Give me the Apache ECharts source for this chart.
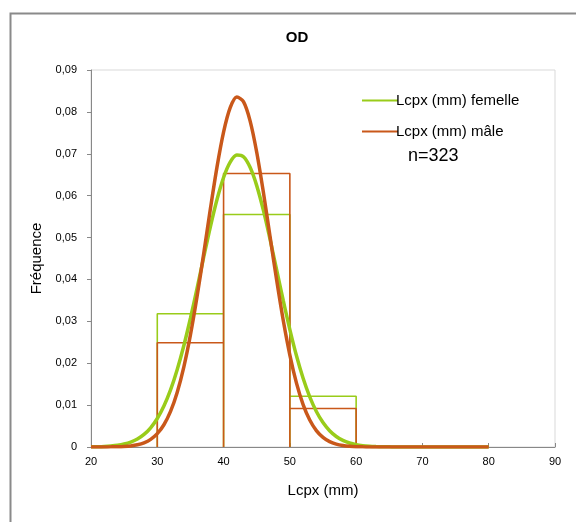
<!DOCTYPE html>
<html>
<head>
<meta charset="utf-8">
<script src="https://cdn.jsdelivr.net/npm/echarts@6/dist/echarts.min.js"></script>
<style>
  html, body { margin: 0; padding: 0; background: #ffffff; }
  #chart { width: 576px; height: 522px; }
</style>
</head>
<body>
<div id="chart"></div>
<script>
// ---- data ----
const chartTitle = 'OD';
const nameFemale = 'Lcpx (mm) femelle';
const nameMale = 'Lcpx (mm) mâle';
const sampleNote = 'n=323';

// histogram bins (edges) and frequencies
const binEdges = [30, 40, 50, 60];
const femaleFreq = [0.0318, 0.0555, 0.0121];
const maleFreq = [0.0249, 0.0653, 0.0092];

// fitted curves, read at each mm from 20 to 80
const curveX = [20,21,22,23,24,25,26,27,28,29,30,31,32,33,34,35,36,37,38,39,40,41,42,43,44,45,46,47,48,49,50,51,52,53,54,55,56,57,58,59,60,61,62,63,64,65,66,67,68,69,70,71,72,73,74,75,76,77,78,79,80];
const femaleCurve = [0.00003,0.00006,0.00012,0.00023,0.0004,0.0007,0.00117,0.0019,0.003,0.00459,0.0068,0.00978,0.01363,0.01844,0.02418,0.03074,0.03789,0.0453,0.05252,0.05903,0.06434,0.068,0.0697,0.06928,0.06676,0.0624,0.05654,0.04968,0.04234,0.03498,0.02803,0.02178,0.0164,0.01198,0.00849,0.00583,0.00389,0.00251,0.00157,0.00096,0.00056,0.00032,0.00018,0.0001,0.00005,0.00003,0,0,0,0,0,0,0,0,0,0,0,0,0,0,0];
const maleCurve = [0,0,0.00001,0.00003,0.00006,0.00013,0.00026,0.00052,0.00099,0.00182,0.00318,0.00531,0.00849,0.01301,0.01907,0.02675,0.03592,0.04614,0.05673,0.06675,0.07516,0.08099,0.08353,0.08243,0.07786,0.07037,0.06087,0.05038,0.03991,0.03025,0.02195,0.01524,0.01012,0.00644,0.00392,0.00228,0.00127,0.00068,0.00035,0.00017,0.00008,0.00003,0.00001,0,0,0,0,0,0,0,0,0,0,0,0,0,0,0,0,0,0];

// axis ticks
const xMin = 20, xMax = 90, xStep = 10;
const yMin = 0, yMax = 0.09, yStep = 0.01;

// ---- helpers ----
function histPath(edges, freq) {
  const pts = [];
  for (let i = 0; i < freq.length; i++) {
    const a = edges[i], b = edges[i + 1], h = freq[i];
    pts.push([a, 0], [a, h], [b, h], [b, 0]);
  }
  return pts;
}
function pairs(xs, ys) { return xs.map((x, i) => [x, ys[i]]); }

const green = '#99cc1a';
const orange = '#c9581a';
const fontFam = '"Liberation Sans", Arial, sans-serif';

const chart = echarts.init(document.getElementById('chart'), null, { renderer: 'canvas' });
chart.setOption({
  animation: false,
  backgroundColor: '#ffffff',
  title: {
    text: chartTitle,
    left: 292, top: 25, textAlign: 'center',
    textStyle: { fontFamily: fontFam, fontSize: 15, fontWeight: 'bold', color: '#000' }
  },
  legend: {
    orient: 'vertical',
    left: 357, top: 88,
    itemWidth: 36, itemHeight: 2, itemGap: 16,
    icon: 'rect',
    data: [nameFemale, nameMale],
    textStyle: { fontFamily: fontFam, fontSize: 15, color: '#000', padding: [0, 0, 0, -7] }
  },
  graphic: [
    { type: 'rect', left: 8, top: 11, shape: { width: 600, height: 600 },
      style: { fill: 'none', stroke: '#8a8a8a', lineWidth: 2 }, silent: true },
    { type: 'text', left: 408, top: 147,
      style: { text: sampleNote, font: '18px ' + fontFam, fill: '#000' } }
  ],
  grid: { left: 91, right: 21, top: 70, bottom: 75, show: true, borderColor: '#d9d9d9', borderWidth: 1 },
  xAxis: {
    type: 'value', min: xMin, max: xMax, interval: xStep,
    name: 'Lcpx (mm)', nameLocation: 'middle', nameGap: 36,
    nameTextStyle: { fontFamily: fontFam, fontSize: 15, color: '#000' },
    axisLine: { show: true, lineStyle: { color: '#888', width: 1 } },
    axisTick: { show: true, inside: true, length: 4, lineStyle: { color: '#888' } },
    axisLabel: { fontFamily: fontFam, fontSize: 11, color: '#000', margin: 9 },
    splitLine: { show: false }
  },
  yAxis: {
    type: 'value', min: yMin, max: yMax, interval: yStep,
    name: 'Fréquence', nameLocation: 'middle', nameGap: 37,
    nameTextStyle: { fontFamily: fontFam, fontSize: 15, color: '#000' },
    axisLine: { show: true, lineStyle: { color: '#888', width: 1 } },
    axisTick: { show: true, length: 4, lineStyle: { color: '#888' } },
    axisLabel: {
      fontFamily: fontFam, fontSize: 11, color: '#000', margin: 14,
      formatter: v => (Math.abs(v) < 1e-9 ? '0' : v.toFixed(2).replace('.', ','))
    },
    splitLine: { show: false }
  },
  series: [
    { name: nameFemale, type: 'line', data: histPath(binEdges, femaleFreq),
      showSymbol: false, symbol: 'none', lineStyle: { color: green, width: 1.6 }, itemStyle: { color: green }, z: 2 },
    { name: nameMale, type: 'line', data: histPath(binEdges, maleFreq),
      showSymbol: false, symbol: 'none', lineStyle: { color: orange, width: 1.6 }, itemStyle: { color: orange }, z: 3 },
    { name: nameFemale, type: 'line', data: pairs(curveX, femaleCurve), smooth: 0.3,
      showSymbol: false, symbol: 'none', lineStyle: { color: green, width: 3.5 }, itemStyle: { color: green }, z: 4 },
    { name: nameMale, type: 'line', data: pairs(curveX, maleCurve), smooth: 0.3,
      showSymbol: false, symbol: 'none', lineStyle: { color: orange, width: 3.5 }, itemStyle: { color: orange }, z: 5 }
  ]
});
</script>
</body>
</html>
